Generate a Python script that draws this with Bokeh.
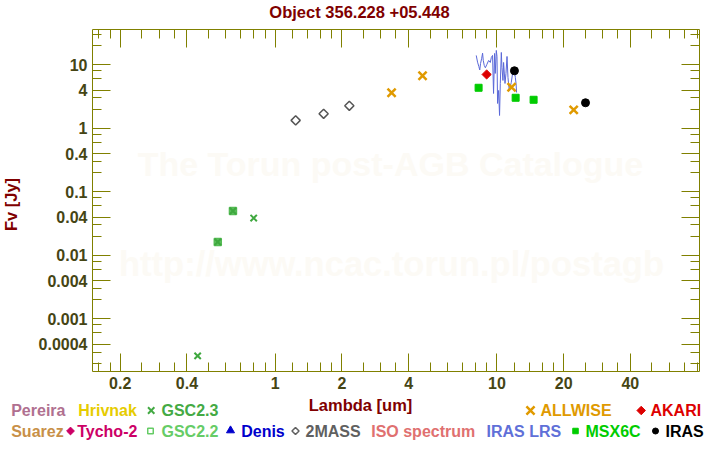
import numpy as np
from bokeh.plotting import figure
from bokeh.layouts import column, row
from bokeh.models import FixedTicker, LogAxis, CustomJSTickFormatter, Range1d, Label
from bokeh.core.properties import value
from bokeh.embed import file_html
from bokeh.resources import INLINE

# ---------------- data (wavelength [um], flux [Jy]) ----------------
twomass_wl = [1.237, 1.654, 2.16]
twomass_f = [1.33, 1.69, 2.26]

allwise_wl = [3.35, 4.62, 11.65, 22.2]
allwise_f = [3.62, 6.70, 4.43, 1.95]

akari_wl = [8.99]
akari_f = [7.03]

iras_wl = [12.0, 25.1]
iras_f = [8.04, 2.52]

msx_wl = [8.27, 12.15, 14.64]
msx_f = [4.34, 3.02, 2.81]

gsc22_wl = [0.551, 0.645]
gsc22_f = [0.0162, 0.0498]

gsc23_wl = [0.447, 0.551, 0.645, 0.80]
gsc23_f = [0.000261, 0.0162, 0.0498, 0.0386]

lrs_wl = [8.07, 8.18, 8.29, 8.37, 8.44, 8.53, 8.62, 8.68, 8.77, 8.87,
          9.01, 9.18, 9.34, 9.44, 9.56, 9.66, 9.76, 9.83, 9.94, 10.01,
          10.07, 10.18, 10.28, 10.36, 10.47, 10.54, 10.65, 10.72, 10.88, 10.99,
          11.11, 11.22, 11.37, 11.49, 11.61, 11.77, 11.98, 12.11, 12.20, 12.27]
lrs_f = [14.02, 10.99, 9.40, 8.28, 10.48, 12.43, 15.23, 11.69, 9.75, 8.97,
         10.11, 11.69, 10.87, 13.03, 14.02, 3.53, 15.06, 7.30, 16.80, 13.51,
         2.46, 3.94, 1.59, 5.08, 15.62, 9.07, 5.66, 10.87, 5.08, 7.30,
         13.51, 6.31, 3.94, 4.55, 5.26, 7.30, 9.07, 6.31, 5.08, 3.66]

x_major = [0.2, 0.4, 1, 2, 4, 10, 20, 40]
x_minor = [0.16, 0.18, 0.25, 0.3, 0.35, 0.5, 0.6, 0.7, 0.8, 0.9,
           1.2, 1.4, 1.6, 1.8, 2.5, 3, 3.5, 5, 6, 7, 8, 9,
           12, 14, 16, 18, 25, 30, 35, 50, 60, 70, 80]
y_major = [0.0004, 0.001, 0.004, 0.01, 0.04, 0.1, 0.4, 1, 4, 10]
y_minor = [0.0002, 0.0003, 0.0006, 0.0008, 0.002, 0.003, 0.006, 0.008,
           0.02, 0.03, 0.06, 0.08, 0.2, 0.3, 0.6, 0.8, 2, 3, 6, 8, 20, 30]

title_text = "Object 356.228 +05.448"
xlabel_text = "Lambda [um]"
ylabel_text = "Fv [Jy]"
watermark1 = "The Torun post-AGB Catalogue"
watermark2 = "http://www.ncac.torun.pl/postagb"

legend_row1 = ["Pereira", "Hrivnak", "GSC2.3", "ALLWISE", "AKARI"]
legend_row2 = ["Suarez", "Tycho-2", "GSC2.2", "Denis", "2MASS",
               "ISO spectrum", "IRAS LRS", "MSX6C", "IRAS"]

# ---------------- styling / layout ----------------
W = 712
STRIP = 24
OLIVE = "#808000"
TICKLAB = "#454514"
DARKRED = "#800000"
FONT = "Liberation Sans"

row1_x = [10.7, 77.7, 161, 540, 650]
row1_col = ["#b07090", "#e6cc00", "#44aa44", "#e09a00", "#dd0000"]
row2_x = [10.7, 76.7, 161, 240.7, 305, 370.7, 486, 585, 665]
row2_col = ["#c89048", "#cc0066", "#66cc66", "#0000cc", "#606060",
            "#e07070", "#6070d8", "#00cc00", "#000000"]
R1, R2 = 410, 430.5


def blank(width, height, x0, x1, y0, y1):
    f = figure(width=width, height=height, x_range=Range1d(x0, x1), y_range=Range1d(y0, y1),
               output_backend="svg", toolbar_location=None,
               x_axis_location=None, y_axis_location=None,
               min_border=0, min_border_left=0, min_border_right=0,
               min_border_top=0, min_border_bottom=0, frame_align=False)
    f.grid.visible = False
    f.outline_line_color = None
    return f


# title strip (page y 0..21), inverted y so values are page pixels
pt = blank(W, 21, 0, W, 21, 0)
pt.text(x=[359], y=[11.5], text=[title_text], text_color=DARKRED,
        text_font=value(FONT), text_font_style="bold", text_font_size="16.5px",
        text_align="center", text_baseline="middle")

# y-label strip (page x 0..24, page y 21..395); y measured upward from page y=395
py_strip = blank(STRIP, 374, 0, STRIP, 0, 374)
py_strip.text(x=[10], y=[395 - 204], text=[ylabel_text], text_color=DARKRED,
              text_font=value(FONT), text_font_style="bold", text_font_size="16.5px",
              text_align="center", text_baseline="middle", angle=np.pi / 2)

# main plot (page x 24..712, y 21..395), frame 92..699 x 29..371
p = figure(width=W - STRIP, height=374, x_axis_type="log", y_axis_type="log",
           x_range=Range1d(0.15, 82), y_range=Range1d(1.48e-4, 35.9),
           output_backend="svg", toolbar_location=None,
           min_border_left=92 - STRIP, min_border_right=13,
           min_border_top=8, min_border_bottom=24, frame_align=False)
p.grid.visible = False
p.outline_line_color = None

top_ax = LogAxis()
right_ax = LogAxis()
p.add_layout(top_ax, "above")
p.add_layout(right_ax, "right")


def style_axis(ax, major, minor, show_labels):
    ax.ticker = FixedTicker(ticks=major, minor_ticks=minor)
    ax.axis_line_color = OLIVE
    ax.axis_line_width = 1
    ax.major_tick_line_color = OLIVE
    ax.minor_tick_line_color = OLIVE
    ax.major_tick_line_width = 1
    ax.minor_tick_line_width = 1
    ax.major_tick_in = 18
    ax.major_tick_out = 0
    ax.minor_tick_in = 9
    ax.minor_tick_out = 0
    if show_labels:
        ax.formatter = CustomJSTickFormatter(code="return tick.toString();")
        ax.major_label_text_font = FONT
        ax.major_label_text_font_style = "bold"
        ax.major_label_text_font_size = "16px"
        ax.major_label_text_color = TICKLAB
        ax.major_label_standoff = 5
    else:
        ax.formatter = CustomJSTickFormatter(code="return '';")
        ax.major_label_text_font_size = "1px"
        ax.major_label_text_alpha = 0
        ax.major_label_standoff = 0


style_axis(p.below[0], x_major, x_minor, True)
style_axis(top_ax, x_major, x_minor, False)
style_axis(p.left[0], y_major, y_minor, True)
style_axis(right_ax, y_major, y_minor, False)

# watermark (frame-relative screen units, frame left 92 / bottom 371 on page)
WM = "#fcfaf5"
for txt, cx, cy, fs in [(watermark1, 390, 163, "34px"), (watermark2, 391, 263, "34.5px")]:
    p.add_layout(Label(x=cx - 92, y=371 - cy, x_units="screen", y_units="screen",
                       text=txt, text_color=WM, text_font=FONT, text_font_style="bold",
                       text_font_size=fs, text_align="center", text_baseline="middle",
                       level="underlay"))

# data glyphs
p.line(lrs_wl, lrs_f, line_color="#5a68d8", line_width=1)
p.scatter(twomass_wl, twomass_f, marker="square", angle=np.pi / 4, size=6.5,
          fill_color=None, line_color="#555555", line_width=1.5)
p.scatter(gsc22_wl, gsc22_f, marker="square", size=7, fill_color="#5cbf5c",
          line_color="#55bb55", line_width=1.5)
p.scatter(gsc23_wl, gsc23_f, marker="x", size=9, line_color="#3fa83f", line_width=2)
p.scatter(allwise_wl, allwise_f, marker="x", size=11.5, line_color="#e09a00", line_width=2.5)
p.scatter(msx_wl, msx_f, marker="square", size=7, fill_color="#00cc00", line_color="#00cc00")
p.scatter(akari_wl, akari_f, marker="square", angle=np.pi / 4, size=6.5,
          fill_color="#dd0000", line_color="#dd0000")
p.scatter(iras_wl, iras_f, marker="circle", size=8, fill_color="black", line_color="black")

# legend strip (page y 395..442), inverted y so values are page pixels
pl = blank(W, 47, 0, W, 442, 395)
pl.text(x=[360], y=[404], text=[xlabel_text], text_color=DARKRED,
        text_font=value(FONT), text_font_style="bold", text_font_size="16.5px",
        text_align="center", text_baseline="middle")
pl.text(x=row1_x + row2_x, y=[R1] * len(row1_x) + [R2] * len(row2_x),
        text=legend_row1 + legend_row2, text_color=row1_col + row2_col,
        text_font=value(FONT), text_font_style="bold", text_font_size="16px",
        text_align="left", text_baseline="middle")
# legend symbols
pl.scatter([150.7], [R1], marker="x", size=9, line_color="#44aa44", line_width=2)
pl.scatter([530], [R1], marker="x", size=11.5, line_color="#e09a00", line_width=2.5)
pl.scatter([640.7], [R1], marker="square", angle=np.pi / 4, size=6,
           fill_color="#dd0000", line_color="#dd0000")
pl.scatter([70], [R2], marker="square", angle=np.pi / 4, size=5.5,
           fill_color="#cc0066", line_color="#cc0066")
pl.scatter([150], [R2], marker="square", size=5.5, fill_color=None,
           line_color="#66cc66", line_width=1.5)
pl.scatter([230], [R2 - 0.5], marker="triangle", size=8, fill_color="#0000cc",
           line_color="#0000cc")
pl.scatter([295], [R2], marker="square", angle=np.pi / 4, size=5,
           fill_color=None, line_color="#606060", line_width=1.5)
pl.scatter([575], [R2], marker="square", size=5.5, fill_color="#00cc00", line_color="#00cc00")
pl.scatter([655], [R2], marker="circle", size=6, fill_color="black", line_color="black")

layout = column(pt, row(py_strip, p, spacing=0), pl, spacing=0)
open("out.html", "w").write(file_html(layout, INLINE))
